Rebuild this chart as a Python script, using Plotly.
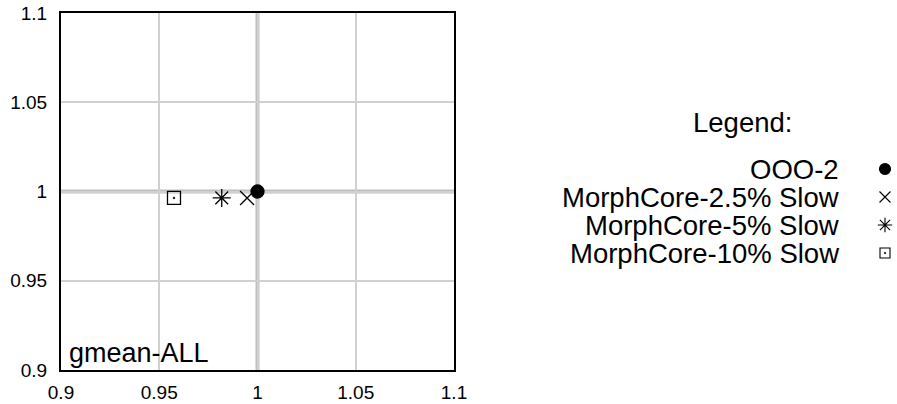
import plotly.graph_objects as go

# Normalized performance (x) vs. normalized energy (y), geometric mean over all benchmarks
series_names = ["OOO-2", "MorphCore-2.5% Slow", "MorphCore-5% Slow", "MorphCore-10% Slow"]
x_values = [1.0, 0.9947, 0.9818, 0.9575]
y_values = [1.0, 0.9964, 0.9964, 0.9964]
symbols = ["circle", "x-thin-open", "asterisk-open", "square-open-dot"]
plot_sizes = [13, 14, 15, 13]
legend_sizes = [11, 11, 12, 10]

x_ticks = [0.9, 0.95, 1.0, 1.05, 1.1]
x_tick_labels = ["0.9", "0.95", "1", "1.05", "1.1"]
y_ticks = [0.9, 0.95, 1.0, 1.05, 1.1]
y_tick_labels = ["0.9", "0.95", "1", "1.05", "1.1"]
baseline = 1.0
panel_label = "gmean-ALL"

W, H = 897, 404
FONT = "Liberation Sans, Arial, Helvetica, sans-serif"

# Panel frame in pixels
PX0, PX1, PY0, PY1 = 61, 454, 13, 370

fig = go.Figure()

for name, xv, yv, sym, sz in zip(series_names, x_values, y_values, symbols, plot_sizes):
    fig.add_trace(go.Scatter(
        x=[xv], y=[yv], mode="markers", name=name, showlegend=False,
        marker=dict(symbol=sym, size=sz, color="black",
                    line=dict(color="black", width=1.3)),
        xaxis="x", yaxis="y",
    ))

# Legend drawn on a full-page pixel axis: text right-aligned, symbol to its right
row_y0, row_step = 169, 28
text_right, symbol_x = 841, 885
for i, (name, sym, sz) in enumerate(zip(series_names, symbols, legend_sizes)):
    ry = row_y0 + i * row_step
    fig.add_trace(go.Scatter(
        x=[symbol_x], y=[ry], mode="markers", showlegend=False, hoverinfo="skip",
        marker=dict(symbol=sym, size=sz, color="black",
                    line=dict(color="black", width=1.1)),
        xaxis="x2", yaxis="y2",
    ))
    fig.add_annotation(
        x=text_right, y=ry, xref="x2", yref="y2", text=name, showarrow=False,
        xanchor="right", yanchor="middle", font=dict(size=27.5, family=FONT, color="black"),
    )
fig.add_annotation(
    x=742, y=122, xref="x2", yref="y2", text="Legend:", showarrow=False,
    xanchor="center", yanchor="middle", font=dict(size=27.5, family=FONT, color="black"),
)

# Reference lines at the baseline
fig.add_shape(type="line", xref="x", yref="y domain", x0=baseline, x1=baseline, y0=0, y1=1,
              line=dict(color="#bebebe", width=4), layer="below")
fig.add_shape(type="line", xref="x domain", yref="y", x0=0, x1=1, y0=baseline, y1=baseline,
              line=dict(color="#bebebe", width=4), layer="below")

fig.add_annotation(
    x=0.014, y=0.0, xref="x domain", yref="y domain", text=panel_label, showarrow=False,
    xanchor="left", yanchor="bottom", font=dict(size=27, family=FONT, color="black"),
)

axis_common = dict(
    showgrid=True, gridcolor="#d0d0d0", gridwidth=2,
    showline=True, linecolor="black", linewidth=2, mirror=True,
    ticks="", zeroline=False, tickfont=dict(size=19, family=FONT, color="black"),
    automargin=False,
)

fig.update_layout(
    width=W, height=H,
    margin=dict(l=0, r=0, t=0, b=0),
    paper_bgcolor="white", plot_bgcolor="rgba(0,0,0,0)",
    xaxis=dict(range=[0.9, 1.1], tickvals=x_ticks, ticktext=x_tick_labels,
               domain=[PX0 / W, PX1 / W], anchor="y", ticklabelstandoff=4, **axis_common),
    yaxis=dict(range=[0.9, 1.1], tickvals=y_ticks, ticktext=y_tick_labels,
               domain=[1 - PY1 / H, 1 - PY0 / H], anchor="x", ticklabelstandoff=8, **axis_common),
    xaxis2=dict(domain=[0, 1], range=[0, W], visible=False, anchor="y2", automargin=False),
    yaxis2=dict(domain=[0, 1], range=[H, 0], visible=False, anchor="x2", automargin=False),
    showlegend=False,
)

fig.write_html("out.html")
